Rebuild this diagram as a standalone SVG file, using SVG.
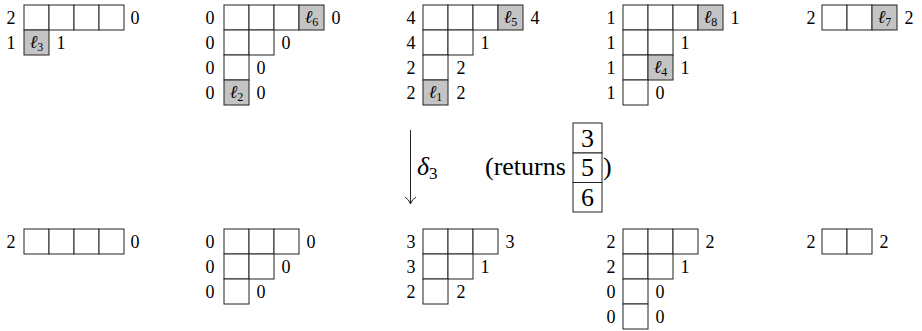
<svg xmlns="http://www.w3.org/2000/svg" width="922" height="331" viewBox="0 0 922 331" font-family="'Liberation Serif', 'DejaVu Serif', serif">
<style>
.c{fill:#fff;stroke:#222;stroke-width:1}
.s{fill:#c4c4c4;stroke:#222;stroke-width:1}
text{font-family:'Liberation Serif','DejaVu Serif',serif;fill:#000}
.n{font-size:18px;text-anchor:middle}
.l{font-size:18px;font-style:italic;text-anchor:middle}
.sub{font-size:12px;font-style:normal}
.m{font-size:26px}
.d{font-size:26px;text-anchor:middle}
</style>
<rect width="922" height="331" fill="#fff"/>

<!-- Top row -->
<g id="t1">
<rect class="c" x="24" y="5" width="25" height="25"/><rect class="c" x="49" y="5" width="25" height="25"/><rect class="c" x="74" y="5" width="25" height="25"/><rect class="c" x="99" y="5" width="25" height="25"/>
<rect class="s" x="24" y="30" width="25" height="25"/>
<text class="l" x="36.5" y="48">ℓ<tspan class="sub" dy="3">3</tspan></text>
<text class="n" x="11" y="24">2</text><text class="n" x="135" y="24">0</text>
<text class="n" x="11" y="49">1</text><text class="n" x="61" y="49">1</text>
</g>

<g id="t2">
<rect class="c" x="224" y="5" width="25" height="25"/><rect class="c" x="249" y="5" width="25" height="25"/><rect class="c" x="274" y="5" width="25" height="25"/><rect class="s" x="299" y="5" width="25" height="25"/>
<rect class="c" x="224" y="30" width="25" height="25"/><rect class="c" x="249" y="30" width="25" height="25"/>
<rect class="c" x="224" y="55" width="25" height="25"/>
<rect class="s" x="224" y="80" width="25" height="25"/>
<text class="l" x="311.5" y="23">ℓ<tspan class="sub" dy="3">6</tspan></text>
<text class="l" x="236.5" y="98">ℓ<tspan class="sub" dy="3">2</tspan></text>
<text class="n" x="210" y="24">0</text><text class="n" x="336" y="24">0</text>
<text class="n" x="210" y="49">0</text><text class="n" x="286" y="49">0</text>
<text class="n" x="210" y="74">0</text><text class="n" x="261" y="74">0</text>
<text class="n" x="210" y="99">0</text><text class="n" x="261" y="99">0</text>
</g>

<g id="t3">
<rect class="c" x="423" y="5" width="25" height="25"/><rect class="c" x="448" y="5" width="25" height="25"/><rect class="c" x="473" y="5" width="25" height="25"/><rect class="s" x="498" y="5" width="25" height="25"/>
<rect class="c" x="423" y="30" width="25" height="25"/><rect class="c" x="448" y="30" width="25" height="25"/>
<rect class="c" x="423" y="55" width="25" height="25"/>
<rect class="s" x="423" y="80" width="25" height="25"/>
<text class="l" x="510.5" y="23">ℓ<tspan class="sub" dy="3">5</tspan></text>
<text class="l" x="435.5" y="98">ℓ<tspan class="sub" dy="3">1</tspan></text>
<text class="n" x="411" y="24">4</text><text class="n" x="535" y="24">4</text>
<text class="n" x="411" y="49">4</text><text class="n" x="485" y="49">1</text>
<text class="n" x="411" y="74">2</text><text class="n" x="461" y="74">2</text>
<text class="n" x="411" y="99">2</text><text class="n" x="461" y="99">2</text>
</g>

<g id="t4">
<rect class="c" x="623" y="5" width="25" height="25"/><rect class="c" x="648" y="5" width="25" height="25"/><rect class="c" x="673" y="5" width="25" height="25"/><rect class="s" x="698" y="5" width="25" height="25"/>
<rect class="c" x="623" y="30" width="25" height="25"/><rect class="c" x="648" y="30" width="25" height="25"/>
<rect class="c" x="623" y="55" width="25" height="25"/><rect class="s" x="648" y="55" width="25" height="25"/>
<rect class="c" x="623" y="80" width="25" height="25"/>
<text class="l" x="710.5" y="23">ℓ<tspan class="sub" dy="3">8</tspan></text>
<text class="l" x="660.5" y="73">ℓ<tspan class="sub" dy="3">4</tspan></text>
<text class="n" x="611" y="24">1</text><text class="n" x="735" y="24">1</text>
<text class="n" x="611" y="49">1</text><text class="n" x="685" y="49">1</text>
<text class="n" x="611" y="74">1</text><text class="n" x="685" y="74">1</text>
<text class="n" x="611" y="99">1</text><text class="n" x="660" y="99">0</text>
</g>

<g id="t5">
<rect class="c" x="822" y="5" width="25" height="25"/><rect class="c" x="847" y="5" width="25" height="25"/><rect class="s" x="872" y="5" width="25" height="25"/>
<text class="l" x="884.5" y="23">ℓ<tspan class="sub" dy="3">7</tspan></text>
<text class="n" x="811" y="24">2</text><text class="n" x="909" y="24">2</text>
</g>

<!-- Connector -->
<g id="connectors" fill="none" stroke="#222" stroke-width="1">
<line x1="410.5" y1="130" x2="410.5" y2="203"/>
<path d="M405,197 Q409,199.5 410.5,204 Q412,199.5 416,197"/>
</g>

<g id="label">
<text class="m" x="417" y="175" font-style="italic">δ<tspan font-size="17" font-style="normal" dy="4">3</tspan></text>
<text class="m" x="485" y="175">(returns</text>
<text class="m" x="603" y="175">)</text>
</g>

<g id="stack">
<rect class="c" x="573" y="123" width="29" height="30"/>
<rect class="c" x="573" y="153" width="29" height="29.5"/>
<rect class="c" x="573" y="182.5" width="29" height="29.5"/>
<text class="d" x="587.5" y="147">3</text>
<text class="d" x="587.5" y="176">5</text>
<text class="d" x="587.5" y="206">6</text>
</g>

<!-- Bottom row -->
<g id="b1">
<rect class="c" x="24" y="229" width="25" height="25"/><rect class="c" x="49" y="229" width="25" height="25"/><rect class="c" x="74" y="229" width="25" height="25"/><rect class="c" x="99" y="229" width="25" height="25"/>
<text class="n" x="11" y="248">2</text><text class="n" x="135" y="248">0</text>
</g>

<g id="b2">
<rect class="c" x="224" y="229" width="25" height="25"/><rect class="c" x="249" y="229" width="25" height="25"/><rect class="c" x="274" y="229" width="25" height="25"/>
<rect class="c" x="224" y="254" width="25" height="25"/><rect class="c" x="249" y="254" width="25" height="25"/>
<rect class="c" x="224" y="279" width="25" height="25"/>
<text class="n" x="210" y="248">0</text><text class="n" x="311" y="248">0</text>
<text class="n" x="210" y="273">0</text><text class="n" x="286" y="273">0</text>
<text class="n" x="210" y="298">0</text><text class="n" x="261" y="298">0</text>
</g>

<g id="b3">
<rect class="c" x="423" y="229" width="25" height="25"/><rect class="c" x="448" y="229" width="25" height="25"/><rect class="c" x="473" y="229" width="25" height="25"/>
<rect class="c" x="423" y="254" width="25" height="25"/><rect class="c" x="448" y="254" width="25" height="25"/>
<rect class="c" x="423" y="279" width="25" height="25"/>
<text class="n" x="411" y="248">3</text><text class="n" x="510" y="248">3</text>
<text class="n" x="411" y="273">3</text><text class="n" x="485" y="273">1</text>
<text class="n" x="411" y="298">2</text><text class="n" x="461" y="298">2</text>
</g>

<g id="b4">
<rect class="c" x="623" y="229" width="25" height="25"/><rect class="c" x="648" y="229" width="25" height="25"/><rect class="c" x="673" y="229" width="25" height="25"/>
<rect class="c" x="623" y="254" width="25" height="25"/><rect class="c" x="648" y="254" width="25" height="25"/>
<rect class="c" x="623" y="279" width="25" height="25"/>
<rect class="c" x="623" y="304" width="25" height="25"/>
<text class="n" x="611" y="248">2</text><text class="n" x="710" y="248">2</text>
<text class="n" x="611" y="273">2</text><text class="n" x="685" y="273">1</text>
<text class="n" x="611" y="298">0</text><text class="n" x="660" y="298">0</text>
<text class="n" x="611" y="323">0</text><text class="n" x="660" y="323">0</text>
</g>

<g id="b5">
<rect class="c" x="822" y="229" width="25" height="25"/><rect class="c" x="847" y="229" width="25" height="25"/>
<text class="n" x="811" y="248">2</text><text class="n" x="884" y="248">2</text>
</g>
</svg>
